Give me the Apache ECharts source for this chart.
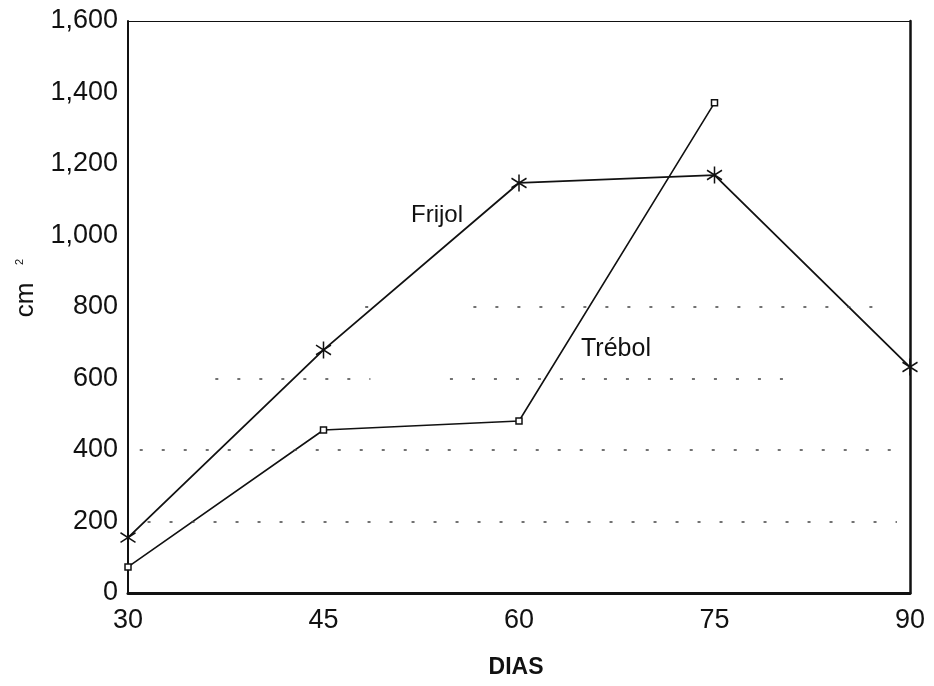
<!DOCTYPE html>
<html>
<head>
<meta charset="utf-8">
<script src="https://cdn.jsdelivr.net/npm/echarts@6/dist/echarts.min.js"></script>
<style>
  html, body { margin: 0; padding: 0; background: #fff; }
  #chart { width: 934px; height: 686px; }
</style>
</head>
<body>
<div id="chart"></div>
<script>
// ---- data ----
const dias = [30, 45, 60, 75, 90];
const frijol = [155, 680, 1147, 1169, 632];
const trebol = [73, 456, 481, 1371];
const yTicks = [0, 200, 400, 600, 800, 1000, 1200, 1400, 1600];
// dotted reference lines: [yValue, xStart, xEnd]
const refSegments = [
  [200, 31.5, 89.0],
  [400, 30.9, 89.6],
  [600, 36.7, 48.6],
  [600, 54.7, 80.4],
  [800, 48.2, 49.7],
  [800, 56.5, 87.2]
];

const chart = echarts.init(document.getElementById('chart'));
const FONT = 'Liberation Sans, Arial, sans-serif';
const INK = '#111';

const starPath = 'path://M0,-8L0,8M-7,-4.5L7,4.5M-7,4.5L7,-4.5';

chart.setOption({
  backgroundColor: '#fff',
  animation: false,
  grid: { left: 128, right: 24, top: 21, bottom: 93 },
  xAxis: [{
    type: 'value', min: 30, max: 90, interval: 15, position: 'bottom',
    axisLine: { show: true, onZero: false, lineStyle: { color: INK, width: 3 } },
    axisTick: { show: false },
    splitLine: { show: false },
    axisLabel: { color: INK, fontFamily: FONT, fontSize: 27, margin: 14 }
  }, {
    type: 'value', min: 30, max: 90, interval: 15, position: 'top',
    axisLine: { show: true, onZero: false, lineStyle: { color: INK, width: 1.2 } },
    axisTick: { show: false }, axisLabel: { show: false }, splitLine: { show: false }
  }],
  yAxis: [{
    type: 'value', min: 0, max: 1600, interval: 200, position: 'left',
    axisLine: { show: true, onZero: false, lineStyle: { color: INK, width: 2 } },
    axisTick: { show: false },
    splitLine: { show: false },
    axisLabel: {
      color: INK, fontFamily: FONT, fontSize: 27, margin: 10,
      formatter: v => v.toLocaleString('en-US')
    }
  }, {
    type: 'value', min: 0, max: 1600, interval: 200, position: 'right',
    axisLine: { show: true, onZero: false, lineStyle: { color: INK, width: 2.5 } },
    axisTick: { show: false }, axisLabel: { show: false }, splitLine: { show: false }
  }],
  series: [{
    name: 'Frijol', type: 'line',
    data: dias.map((d, i) => [d, frijol[i]]),
    symbol: starPath, symbolSize: [15, 17],
    lineStyle: { color: INK, width: 1.8 },
    itemStyle: { color: 'none', borderColor: INK, borderWidth: 1.6 },
    z: 3,
    markLine: {
      silent: true, symbol: 'none', label: { show: false },
      lineStyle: { color: '#444', width: 1.6, type: [3, 19] },
      data: refSegments.map(s => [{ coord: [s[1], s[0]] }, { coord: [s[2], s[0]] }])
    }
  }, {
    name: 'Trébol', type: 'line',
    data: trebol.map((v, i) => [dias[i], v]),
    symbol: 'rect', symbolSize: 6,
    lineStyle: { color: INK, width: 1.6 },
    itemStyle: { color: '#fff', borderColor: INK, borderWidth: 1.5 },
    z: 3
  }],
  graphic: [
    { type: 'text', x: 411, y: 203,
      style: { text: 'Frijol', fill: INK, font: '24px ' + FONT } },
    { type: 'text', x: 581, y: 337,
      style: { text: 'Trébol', fill: INK, font: '25px ' + FONT } },
    { type: 'text', x: 516, y: 656,
      style: { text: 'DIAS', fill: INK, font: 'bold 23px ' + FONT, align: 'center' } },
    { type: 'text', x: 26, y: 300, rotation: Math.PI / 2, origin: [0, 0],
      style: { text: 'cm', fill: INK, font: '26px ' + FONT, align: 'center', verticalAlign: 'middle' } },
    { type: 'text', x: 20, y: 262, rotation: Math.PI / 2, origin: [0, 0],
      style: { text: '2', fill: INK, font: '11px ' + FONT, align: 'center', verticalAlign: 'middle' } }
  ]
});
</script>
</body>
</html>
